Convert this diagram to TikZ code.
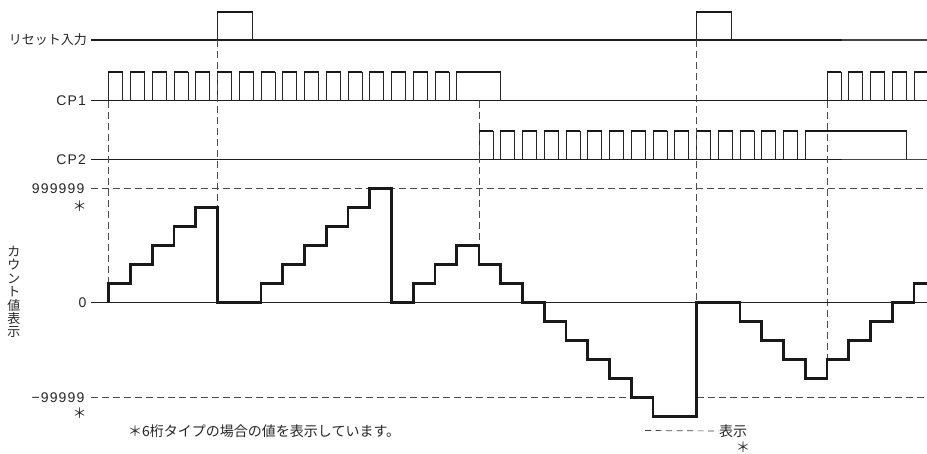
\documentclass[tikz,border=0pt]{standalone}
\usepackage{fontspec}
\setmainfont{Liberation Sans}
\newfontfamily\jpfont{Noto Sans CJK JP}
\newfontfamily\latfont[LetterSpace=8]{Liberation Sans}
\begin{document}
\begin{tikzpicture}[x=1pt,y=-1pt,
  baseln/.style={line width=1.3pt, black!88},
  baselight/.style={line width=1.1pt, black!72},
  pulse/.style={line width=0.9pt, black!85},
  pulsetop/.style={line width=2.4pt, black!90},
  guide/.style={dash pattern=on 7pt off 4pt, line width=0.8pt, black!70},
  count/.style={line width=2.6pt, black!90, line join=miter},
  lat/.style={font=\fontsize{14}{16}\latfont, inner sep=0pt, text=black!85},
  jp/.style={font=\fontsize{14}{16}\jpfont, inner sep=0pt, text=black!85}]
\useasboundingbox (0,0) rectangle (927,454);

% signal baselines
\draw[baseln] (91,40) -- (842,40);
\draw[baselight] (842,40) -- (927,40);
\draw[baseln] (91,100.7) -- (927,100.7);
\draw[baseln] (91,159.5) -- (842,159.5);
\draw[baselight] (842,159.5) -- (927,159.5);

% reset pulses
\foreach \x/\w in {217.5/34.5, 696.5/34.5} {
  \draw[pulse] (\x,40) -- (\x,11.8) -- ({\x+\w},11.8) -- ({\x+\w},40);
  \draw[pulsetop] ({\x-0.45},11.8) -- ({\x+\w+0.45},11.8);
}
% CP1 pulses
\foreach \k in {0,...,15} {
  \pgfmathsetmacro\x{108.75+21.75*\k}
  \draw[pulse] (\x,100.7) -- (\x,72.3) -- ({\x+14},72.3) -- ({\x+14},100.7);
  \draw[pulsetop] ({\x-0.45},72.3) -- ({\x+14.45},72.3);
}
\draw[pulse] (456.75,100.7) -- (456.75,72.3) -- (500.5,72.3) -- (500.5,100.7);
\draw[pulsetop] (456.3,72.3) -- (500.95,72.3);
\foreach \k in {0,...,4} {
  \pgfmathsetmacro\x{827+21.75*\k}
  \draw[pulse] (\x,100.7) -- (\x,72.3) -- ({\x+14},72.3) -- ({\x+14},100.7);
  \draw[pulsetop] ({\x-0.45},72.3) -- ({\x+14.45},72.3);
}
% CP2 pulses
\foreach \k in {0,...,14} {
  \pgfmathsetmacro\x{479+21.75*\k}
  \draw[pulse] (\x,159.5) -- (\x,131.2) -- ({\x+14},131.2) -- ({\x+14},159.5);
  \draw[pulsetop] ({\x-0.45},131.2) -- ({\x+14.45},131.2);
}
\draw[pulse] (805.25,159.5) -- (805.25,131.2) -- (906.7,131.2) -- (906.7,159.5);
\draw[pulsetop] (804.8,131.2) -- (907.15,131.2);

% guide lines
\draw[guide] (91,188.5) -- (927,188.5);
\draw[guide] (91,397.5) -- (653,397.5);
\draw[guide] (696.5,397.5) -- (927,397.5);
\draw[guide] (108.75,101) -- (108.75,283.5);
\draw[guide] (217.5,40) -- (217.5,207.5);
\draw[guide] (479,101) -- (479,245.5);
\draw[guide] (696.5,40) -- (696.5,302.5);
\draw[guide] (827,101) -- (827,359.5);

% zero line
\draw[line width=1.0pt, black!88] (91,302.5) -- (927,302.5);

% count value
\draw[count] (108.75,302.5) |- (130.5,283.5) |- (152.25,264.5) |- (174,245.5)
  |- (195.75,226.5) |- (217.5,207.5) |- (261,302.5) |- (282.75,283.5)
  |- (304.5,264.5) |- (326.25,245.5) |- (348,226.5) |- (369.75,207.5)
  |- (391.5,188.5) |- (413.25,302.5) |- (435,283.5) |- (456.75,264.5)
  |- (479,245.5) |- (500.75,264.5) |- (522.5,283.5) |- (544.25,302.5)
  |- (566,321.5) |- (587.75,340.5) |- (609.5,359.5) |- (631.25,378.5)
  |- (653,397.5) |- (696.5,416.5) |- (740,302.5) |- (761.75,321.5)
  |- (783.5,340.5) |- (805.25,359.5) |- (827,378.5) |- (848.75,359.5)
  |- (870.5,340.5) |- (892.25,321.5) |- (914,302.5) |- (927,283.5);

% labels
\node[font=\fontsize{13}{15}\jpfont, text=black!85, inner sep=0pt, anchor=east] (lreset) at (87,40) {リセット入力};
\node[lat, anchor=east] (lcp1) at (86,100.7) {CP1};
\node[lat, anchor=east] (lcp2) at (86,159.5) {CP2};
\node[lat, anchor=east] (lmax) at (84.5,189) {999999};
\node[jp] (smax) at (79.5,206) {＊};
\node[lat, anchor=east] (lzero) at (86.5,302.5) {0};
\node[lat, anchor=east] (lmin) at (84.5,397.5) {−99999};
\node[jp] (smin) at (79.5,413) {＊};
\node[font=\fontsize{13}{13.4}\jpfont, text=black!85, inner sep=0pt, align=center] (lvert) at (14,292)
  {カ\\ウ\\ン\\ト\\値\\表\\示};
\node[jp, anchor=west] (note) at (128,431) {＊6桁タイプの場合の値を表示しています。};
\coordinate (dstart) at (645,430.5);
\node[jp, anchor=west] (ldisp) at (719,431) {表示};
\draw[dash pattern=on 6pt off 4.5pt, line width=0.7pt, black!75] (dstart) -- (ldisp.west);
\node[jp] (sdisp) at (743,447) {＊};
\end{tikzpicture}
\end{document}
